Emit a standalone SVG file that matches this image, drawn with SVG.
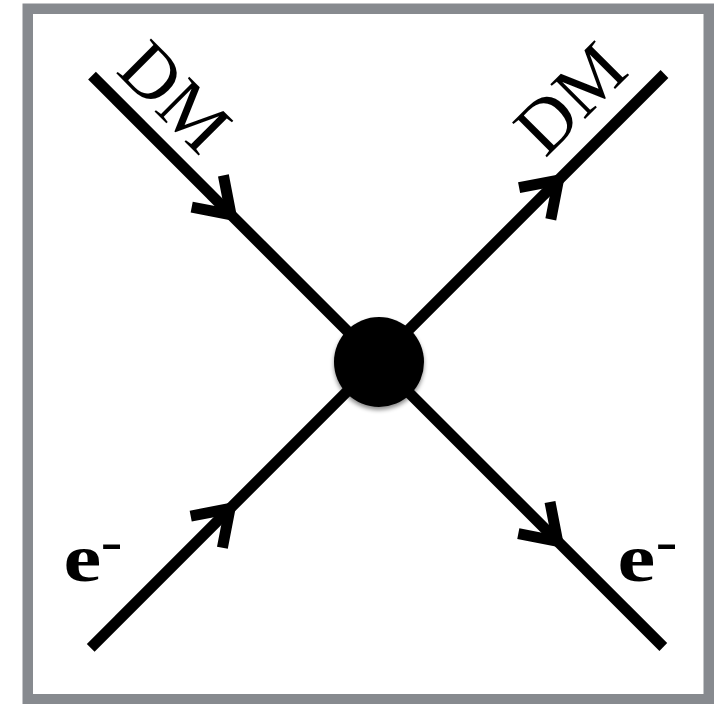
<svg xmlns="http://www.w3.org/2000/svg" width="723" height="704" viewBox="0 0 723 704">
<defs>
<style>
.frame{fill:#ffffff;stroke:#878a8f;stroke-width:10.5}
.line{stroke:#000;stroke-width:11;stroke-linecap:butt;fill:none}
.chev{stroke:#000;stroke-width:11;stroke-linecap:butt;stroke-linejoin:miter;stroke-miterlimit:10;fill:none}
.dm{font-family:"Liberation Serif","Times New Roman",serif;font-size:75px;fill:#000;text-anchor:middle}
.e{font-family:"Liberation Serif","Times New Roman",serif;font-weight:bold;font-size:68px;fill:#000}
</style>
<filter id="sh" x="-30%" y="-30%" width="160%" height="170%">
<feDropShadow dx="0" dy="3" stdDeviation="2" flood-color="#000" flood-opacity="0.45"/>
</filter>
</defs>
<rect width="723" height="704" fill="#ffffff"/>
<rect class="frame" x="27.75" y="8.75" width="681" height="690.5"/>
<g id="connectors">
<line class="line" x1="92" y1="75.7" x2="663.3" y2="647"/>
<line class="line" x1="90.7" y1="647.8" x2="664.5" y2="74"/>
<polyline class="chev" points="223.4,175.4 231,214.7 191.7,207.1"/>
<polyline class="chev" points="519.1,187.7 558.4,180.1 550.8,219.4"/>
<polyline class="chev" points="190.7,516.1 230,508.5 222.4,547.8"/>
<polyline class="chev" points="550,502 557.6,541.3 518.3,533.7"/>
</g>
<g id="vertex">
<circle cx="379" cy="362" r="45" fill="#000" filter="url(#sh)"/>
</g>
<g id="label-dm-in">
<text class="dm" transform="translate(157.5,114.5) rotate(45)">DM</text>
</g>
<g id="label-dm-out">
<text class="dm" transform="translate(588,116) rotate(-45)">DM</text>
</g>
<g id="label-e-in">
<text class="e" transform="translate(63.5,581) scale(1.25,1)">e<tspan x="29.8" y="-22.1" font-size="52">-</tspan></text>
</g>
<g id="label-e-out">
<text class="e" transform="translate(617.5,581) scale(1.25,1)">e<tspan x="30.6" y="-22.1" font-size="52">-</tspan></text>
</g>
</svg>
